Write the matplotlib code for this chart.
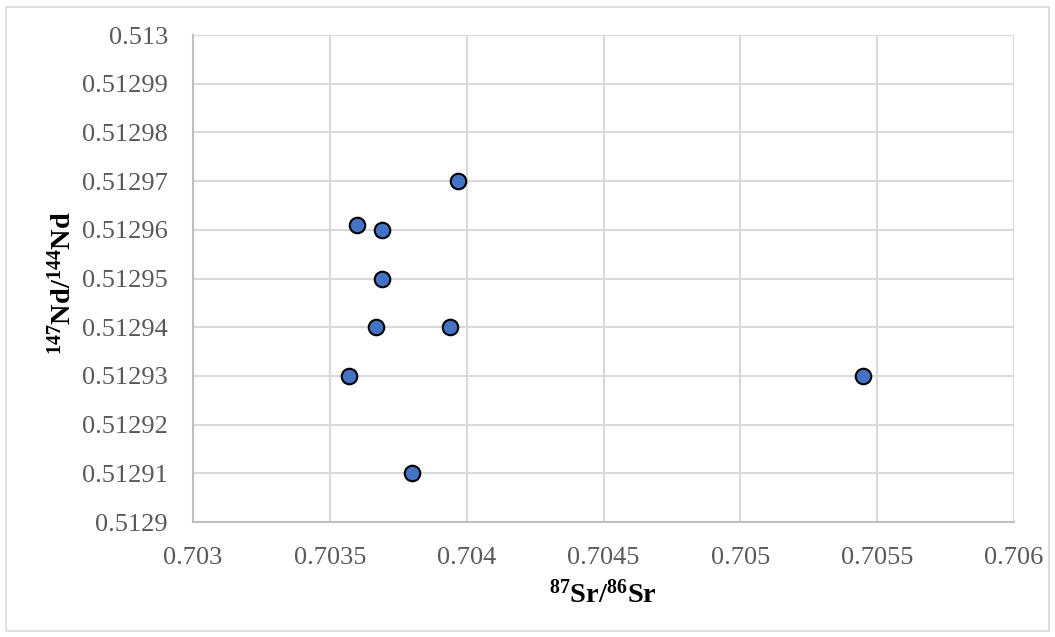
import numpy as np
import matplotlib.pyplot as plt
from matplotlib.patches import Rectangle

# Sr-Nd isotope ratios
sr_ratio = [0.70397, 0.70360, 0.70369, 0.70369, 0.70367, 0.70394, 0.70357, 0.70380, 0.70545]
nd_ratio = [0.51297, 0.512961, 0.51296, 0.51295, 0.51294, 0.51294, 0.51293, 0.51291, 0.51293]

x_ticks = [0.703, 0.7035, 0.704, 0.7045, 0.705, 0.7055, 0.706]
x_tick_labels = ["0.703", "0.7035", "0.704", "0.7045", "0.705", "0.7055", "0.706"]
y_ticks = [0.5129, 0.51291, 0.51292, 0.51293, 0.51294, 0.51295, 0.51296, 0.51297, 0.51298, 0.51299, 0.513]
y_tick_labels = ["0.5129", "0.51291", "0.51292", "0.51293", "0.51294", "0.51295",
                 "0.51296", "0.51297", "0.51298", "0.51299", "0.513"]

plt.rcParams['font.family'] = ['Liberation Serif', 'DejaVu Serif']
plt.rcParams['mathtext.fontset'] = 'custom'
plt.rcParams['mathtext.rm'] = 'Liberation Serif'
plt.rcParams['mathtext.bf'] = 'Liberation Serif:bold'

fig = plt.figure(figsize=(10.55, 6.37), dpi=100)
ax = fig.add_axes([193 / 1055, 1 - 522 / 637, (1014 - 193) / 1055, (522 - 35) / 637])

ax.scatter(sr_ratio, nd_ratio, s=125, color='#4472C4', edgecolors='black',
           linewidths=1.5, zorder=3)

ax.set_xlim(0.703, 0.706)
ax.set_ylim(0.5129, 0.513)
ax.set_xticks(x_ticks)
ax.set_xticklabels(x_tick_labels)
ax.set_yticks(y_ticks)
ax.set_yticklabels(y_tick_labels)
ax.tick_params(length=0, labelsize=19, labelcolor='#595959')
ax.tick_params(axis='y', pad=18)
ax.tick_params(axis='x', pad=18)

ax.grid(True, color='#D9D9D9', linewidth=1.5)
ax.set_axisbelow(True)
for side in ['top', 'right']:
    ax.spines[side].set_visible(False)
for side in ['left', 'bottom']:
    ax.spines[side].set_color('#BFBFBF')
    ax.spines[side].set_linewidth(1.5)

ax.set_xlabel(r'$\mathbf{^{87}Sr/^{86}Sr}$', fontsize=20.5)
ax.set_ylabel(r'$\mathbf{^{147}Nd/^{144}Nd}$', fontsize=20.5)
ax.xaxis.set_label_coords(0.499, -0.12)
ax.yaxis.set_label_coords(-0.142, 0.49)

# light frame around the whole chart
fig.patches.append(Rectangle((6 / 1055, 6 / 637), 1 - 12 / 1055, 1 - 13 / 637,
                             transform=fig.transFigure, fill=False,
                             edgecolor='#D9D9D9', linewidth=1.2))

fig.savefig('out.png', dpi=100, facecolor='white')
